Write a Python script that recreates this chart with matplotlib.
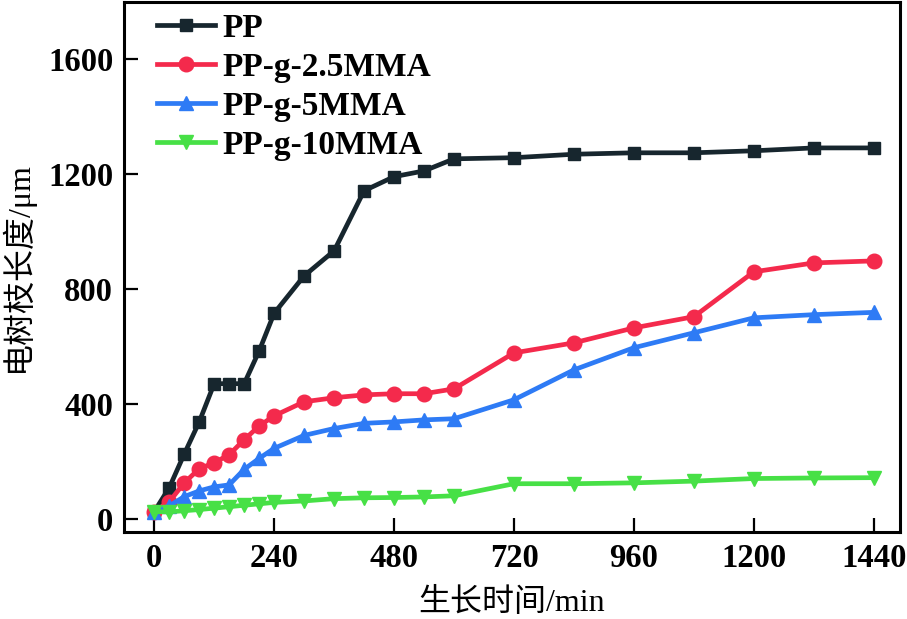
import numpy as np
import matplotlib
matplotlib.use('Agg')
import matplotlib.pyplot as plt

# growth time (min) and tree length (um) for each sample
time = [0, 30, 60, 90, 120, 150, 180, 210, 240,
        300, 360, 420, 480, 540, 600,
        720, 840, 960, 1080, 1200, 1320, 1440]
pp = [25, 108, 225, 337, 470, 470, 470, 584, 715,
      845, 932, 1141, 1190, 1210, 1252,
      1256, 1268, 1273, 1273, 1280, 1290, 1290]
pp_25mma = [25, 59, 125, 174, 195, 223, 275, 323, 358,
            407, 421, 431, 435, 435, 452,
            577, 612, 664, 703, 859, 890, 897]
pp_5mma = [25, 45, 77, 97, 111, 118, 172, 210, 245,
           290, 314, 332, 337, 344, 348,
           414, 518, 595, 647, 699, 710, 718]
pp_10mma = [25, 24, 28, 32, 37, 42, 47, 52, 57,
            62, 70, 73, 74, 76, 80,
            122, 122, 125, 131, 140, 142, 143]

labels = ['PP', 'PP-g-2.5MMA', 'PP-g-5MMA', 'PP-g-10MMA']
colors = ['#17262e', '#f42a4c', '#2e7bf5', '#47e046']
markers = ['s', 'o', '^', 'v']
msizes = [9, 10.5, 10.5, 10.5]

plt.rcParams['font.family'] = ['Liberation Serif', 'Noto Sans CJK SC']

fig = plt.figure(figsize=(9.07, 6.19), dpi=100)
ax = fig.add_axes([0.137, 0.141, 0.855, 0.856])

for y, lab, c, m, ms in zip([pp, pp_25mma, pp_5mma, pp_10mma], labels, colors, markers, msizes):
    ax.plot(time, y, color=c, marker=m, markersize=ms, linewidth=3.4, label=lab)

ax.set_xlim(-60, 1492)
ax.set_ylim(-45, 1798)
ax.set_xticks([0, 240, 480, 720, 960, 1200, 1440])
ax.set_yticks([0, 400, 800, 1200, 1600])
ax.tick_params(direction='in', length=10, width=1.6, labelsize=23.5, pad=8)
for t in ax.get_xticklabels() + ax.get_yticklabels():
    t.set_fontweight('bold')
for s in ax.spines.values():
    s.set_linewidth(2.2)

ax.set_xlabel('生长时间/min', fontsize=23, labelpad=10)
ax.set_ylabel('电树枝长度/μm', fontsize=23, labelpad=10)

ax.legend(loc='upper left', frameon=False, handlelength=1.75,
          handletextpad=0.2, labelspacing=0.24, borderaxespad=0.0,
          bbox_to_anchor=(0.025, 1.005), prop={'size': 24, 'weight': 'bold'})

fig.savefig('out.png', dpi=100)
